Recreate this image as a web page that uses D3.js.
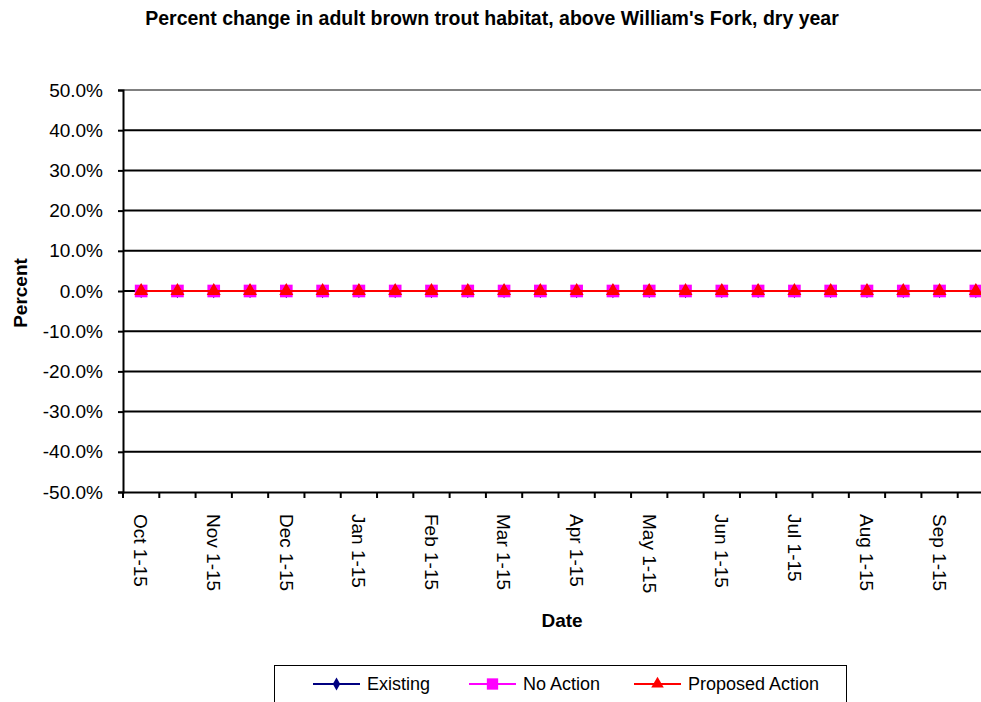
<!DOCTYPE html>
<html>
<head>
  <meta charset="utf-8">
  <title>Brown trout habitat</title>
  <script src="https://d3js.org/d3.v7.min.js"></script>
  <style>
    body { margin: 0; background: #fff; }
    text { font-family: "Liberation Sans", Arial, sans-serif; }
  </style>
</head>
<body>
<div id="chart"></div>
<script>
  // half-month periods
  let periods = ['Oct 1-15', 'Oct 16-31', 'Nov 1-15', 'Nov 16-30', 'Dec 1-15', 'Dec 16-31',
                 'Jan 1-15', 'Jan 16-31', 'Feb 1-15', 'Feb 16-28', 'Mar 1-15', 'Mar 16-31',
                 'Apr 1-15', 'Apr 16-30', 'May 1-15', 'May 16-31', 'Jun 1-15', 'Jun 16-30',
                 'Jul 1-15', 'Jul 16-31', 'Aug 1-15', 'Aug 16-31', 'Sep 1-15', 'Sep 16-30'];
  let existing       = [0,0,0,0,0,0,0,0,0,0,0,0,0,0,0,0,0,0,0,0,0,0,0,0];
  let noAction       = [0,0,0,0,0,0,0,0,0,0,0,0,0,0,0,0,0,0,0,0,0,0,0,0];
  let proposedAction = [0,0,0,0,0,0,0,0,0,0,0,0,0,0,0,0,0,0,0,0,0,0,0,0];
  let yTicks = [0.5, 0.4, 0.3, 0.2, 0.1, 0, -0.1, -0.2, -0.3, -0.4, -0.5];

  let series = [
    {name: 'Existing', values: existing, color: '#000080', symbol: d3.symbolDiamond, size: 60},
    {name: 'No Action', values: noAction, color: '#ff00ff', symbol: d3.symbolSquare, size: 160},
    {name: 'Proposed Action', values: proposedAction, color: '#ff0000', symbol: d3.symbolTriangle, size: 85}
  ];

  let margin = {top: 90, left: 123};
  let w = 871, h = 402;

  let svg = d3.select('#chart').append('svg')
      .attr('width', 981).attr('height', 702);

  let g = svg.append('g').attr('transform', `translate(${margin.left},${margin.top})`);

  let xScale = d3.scaleBand().domain(periods).range([0, w]);
  let yScale = d3.scaleLinear().domain([-0.5, 0.5]).range([h, 0]);

  // gridlines
  g.selectAll('.grid')
    .data(yTicks.filter(t => t !== 0.5 && t !== -0.5))
    .enter().append('line')
      .attr('x1', 0).attr('x2', w)
      .attr('y1', d => yScale(d)).attr('y2', d => yScale(d))
      .attr('stroke', '#000').attr('stroke-width', 2);
  // top border of plot area
  g.append('line')
    .attr('x1', 0).attr('x2', w)
    .attr('y1', 0).attr('y2', 0)
    .attr('stroke', '#808080').attr('stroke-width', 2);

  // y axis (hyphen minus like the original)
  let pct = d3.format('.1f');
  let yAxis = d3.axisLeft(yScale)
      .tickValues(yTicks)
      .tickFormat(d => pct(d * 100).replace('\u2212', '-') + '%')
      .tickSize(5).tickPadding(15);
  let ya = g.append('g').call(yAxis);
  ya.select('.domain').attr('stroke-width', 2);
  ya.selectAll('line').attr('stroke-width', 2);
  ya.selectAll('text')
    .attr('font-size', '19px')
    .attr('font-family', '"Liberation Sans", Arial, sans-serif')
    .attr('fill', '#000');

  // x axis
  let xAxis = d3.axisBottom(xScale).tickSize(0).tickFormat((d, i) => i % 2 === 0 ? d : '');
  let xa = g.append('g').attr('transform', `translate(0,${h})`).call(xAxis);
  xa.select('.domain').attr('stroke-width', 2);
  xa.selectAll('text')
    .attr('font-size', '19px')
    .attr('font-family', '"Liberation Sans", Arial, sans-serif')
    .attr('fill', '#000')
    .attr('transform', 'rotate(90)')
    .attr('x', 22).attr('y', 0).attr('dy', '0.35em')
    .style('text-anchor', 'start');
  // band boundary ticks
  xa.selectAll('.btick')
    .data(periods.concat(['end']))
    .enter().append('line')
      .attr('x1', (d, i) => i * xScale.bandwidth())
      .attr('x2', (d, i) => i * xScale.bandwidth())
      .attr('y1', 0).attr('y2', 6)
      .attr('stroke', '#000').attr('stroke-width', 2);

  // series lines and markers
  let line = d3.line()
      .x((d, i) => xScale(periods[i]) + xScale.bandwidth() / 2)
      .y(d => yScale(d));
  series.forEach(s => {
    g.append('path')
      .datum(s.values)
      .attr('d', line)
      .attr('fill', 'none')
      .attr('stroke', s.color)
      .attr('stroke-width', 2);
    g.selectAll(null)
      .data(s.values)
      .enter().append('path')
        .attr('d', d3.symbol().type(s.symbol).size(s.size))
        .attr('transform', (d, i) => `translate(${xScale(periods[i]) + xScale.bandwidth() / 2},${yScale(d)})`)
        .attr('fill', s.color);
  });

  // title
  svg.append('text')
    .attr('x', 492).attr('y', 25)
    .style('text-anchor', 'middle')
    .attr('font-size', '19.5px').attr('font-weight', 'bold')
    .text("Percent change in adult brown trout habitat, above William's Fork, dry year");

  // axis titles
  svg.append('text')
    .attr('x', 562).attr('y', 627)
    .style('text-anchor', 'middle')
    .attr('font-size', '19px').attr('font-weight', 'bold')
    .text('Date');
  svg.append('text')
    .attr('transform', 'translate(27,293) rotate(-90)')
    .style('text-anchor', 'middle')
    .attr('font-size', '19px').attr('font-weight', 'bold')
    .text('Percent');

  // legend
  let legend = svg.append('g');
  legend.append('rect')
    .attr('x', 274.5).attr('y', 665.5)
    .attr('width', 572).attr('height', 60)
    .attr('fill', '#fff').attr('stroke', '#000').attr('stroke-width', 1);
  let legendX = [313, 469, 634];
  series.forEach((s, i) => {
    let lg = legend.append('g').attr('transform', `translate(${legendX[i]},684)`);
    lg.append('line').attr('x1', 0).attr('x2', 47).attr('y1', 0).attr('y2', 0)
      .attr('stroke', s.color).attr('stroke-width', 2);
    lg.append('path')
      .attr('d', d3.symbol().type(s.symbol).size(s.size * 0.8))
      .attr('transform', 'translate(23.5,0)')
      .attr('fill', s.color);
    lg.append('text')
      .attr('x', 54).attr('y', 0).attr('dy', '0.35em')
      .attr('font-size', '18px')
      .text(s.name);
  });
</script>
</body>
</html>
